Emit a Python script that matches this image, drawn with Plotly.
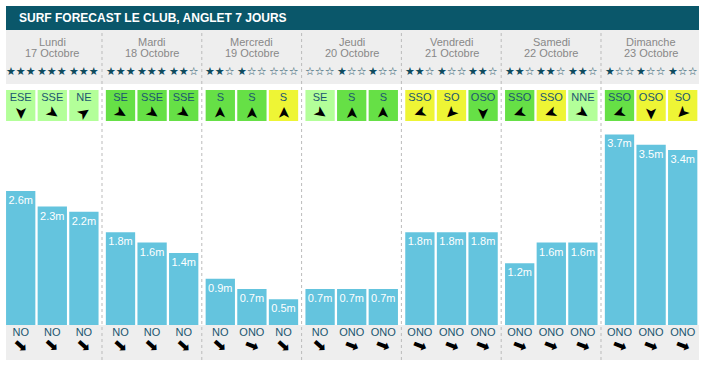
import plotly.graph_objects as go

W, H = 704, 369

days = ["Lundi", "Mardi", "Mercredi", "Jeudi", "Vendredi", "Samedi", "Dimanche"]
dates = ["17 Octobre", "18 Octobre", "19 Octobre", "20 Octobre",
         "21 Octobre", "22 Octobre", "23 Octobre"]

stars = [3, 3, 3, 3, 3, 2, 2, 1, 0, 0, 1, 1, 2, 1, 2, 2, 2, 2, 1, 1, 1]

wind_dir = ["ESE", "SSE", "NE", "SE", "SSE", "SSE", "S", "S", "S",
            "SE", "S", "S", "SSO", "SO", "OSO", "SSO", "SSO", "NNE",
            "SSO", "OSO", "SO"]
wind_class = ["light", "light", "light", "green", "green", "green",
              "green", "green", "yellow", "light", "green", "green",
              "yellow", "yellow", "green", "green", "yellow", "light",
              "green", "yellow", "yellow"]
# direction the wind arrow points, degrees clockwise from up
wind_angle = [180, 125, 55, 120, 125, 125, 0, 0, 0, 125, 0, 0,
              250, 225, 180, 250, 250, 125, 250, 180, 225]

wave_height = [2.6, 2.3, 2.2, 1.8, 1.6, 1.4, 0.9, 0.7, 0.5, 0.7, 0.7, 0.7,
               1.8, 1.8, 1.8, 1.2, 1.6, 1.6, 3.7, 3.5, 3.4]

swell_dir = ["NO", "NO", "NO", "NO", "NO", "NO", "NO", "ONO", "NO",
             "NO", "ONO", "ONO", "ONO", "ONO", "ONO", "ONO", "ONO", "ONO",
             "ONO", "ONO", "ONO"]
swell_angle = {"NO": 42, "ONO": 22}

class_color = {"light": "#B3FF99", "green": "#66E046", "yellow": "#EEF535"}

# ---------- layout geometry (pixels) ----------
COL = 99.8
SLOT = 31.6
X0 = 20.7
BARW = 29.3
PX_PER_M = 51.5


def py(px):
    return 1 - px / H


def slot_x(i):
    d, s = divmod(i, 3)
    return X0 + COL * d + SLOT * s


xs = [slot_x(i) for i in range(len(wave_height))]

TEXT_COL = "#1B5670"
STAR_COL = "#0E4B5E"

fig = go.Figure()

# wave bars
fig.add_trace(go.Bar(
    x=xs, y=wave_height, width=BARW, yaxis="y",
    marker=dict(color="#64C4DE", line=dict(width=0)),
    text=[f"{v}m" for v in wave_height], textposition="inside",
    insidetextanchor="end", constraintext="none", textangle=0,
    textfont=dict(color="white", size=11, family="Arial"),
    hoverinfo="skip", showlegend=False,
))

# wind boxes
fig.add_trace(go.Bar(
    x=xs, y=[1] * len(xs), base=0, width=BARW, yaxis="y2",
    marker=dict(color=[class_color[c] for c in wind_class], line=dict(width=0)),
    hoverinfo="skip", showlegend=False,
))
fig.add_trace(go.Scatter(
    x=xs, y=[0.73] * len(xs), yaxis="y2", mode="text", text=wind_dir,
    textfont=dict(color=TEXT_COL, size=11, family="Arial"),
    hoverinfo="skip", showlegend=False,
))

# swell direction
fig.add_trace(go.Scatter(
    x=xs, y=[0.77] * len(xs), yaxis="y3", mode="text", text=swell_dir,
    textfont=dict(color=TEXT_COL, size=11, family="Arial"),
    hoverinfo="skip", showlegend=False,
))

shapes = []
shapes.append(dict(type="rect", xref="paper", yref="paper", x0=6 / W, x1=699 / W,
                   y0=py(30), y1=py(6), fillcolor="#0A576A", line=dict(width=0),
                   layer="below"))
shapes.append(dict(type="rect", xref="paper", yref="paper", x0=6 / W, x1=699 / W,
                   y0=py(84), y1=py(30), fillcolor="#EEEEEE", line=dict(width=0),
                   layer="below"))
shapes.append(dict(type="rect", xref="paper", yref="paper", x0=6 / W, x1=699 / W,
                   y0=py(360), y1=py(325), fillcolor="#EEEEEE", line=dict(width=0),
                   layer="below"))
for d in range(len(days) - 1):
    sx = 102 + COL * d
    shapes.append(dict(type="line", xref="x", yref="paper", x0=sx, x1=sx,
                       y0=py(360), y1=py(30),
                       line=dict(color="#BBBBBB", width=1, dash="3px,3px"),
                       layer="below"))

annotations = []
annotations.append(dict(text="<b>SURF FORECAST LE CLUB, ANGLET 7 JOURS</b>",
                        xref="paper", yref="paper", x=17 / W, y=py(18),
                        xanchor="left", yanchor="middle", showarrow=False,
                        font=dict(color="white", size=12, family="Arial")))
for d, (name, date) in enumerate(zip(days, dates)):
    cx = slot_x(3 * d + 1)
    annotations.append(dict(text=name, xref="x", yref="paper", x=cx, y=py(41.5),
                            xanchor="center", yanchor="middle", showarrow=False,
                            font=dict(color="#888888", size=11, family="Arial")))
    annotations.append(dict(text=date, xref="x", yref="paper", x=cx, y=py(53.5),
                            xanchor="center", yanchor="middle", showarrow=False,
                            font=dict(color="#888888", size=11, family="Arial")))
for i, n in enumerate(stars):
    txt = "★" * n + "☆" * (3 - n)
    annotations.append(dict(text=txt, xref="x", yref="paper", x=xs[i], y=py(71.5),
                            xanchor="center", yanchor="middle", showarrow=False,
                            font=dict(color=STAR_COL, size=11, family="DejaVu Sans")))
for i, a in enumerate(wind_angle):
    annotations.append(dict(text="➤", xref="x", yref="y2", x=xs[i], y=0.26,
                            xanchor="center", yanchor="middle", showarrow=False,
                            textangle=a - 90,
                            font=dict(color="black", size=16, family="DejaVu Sans")))
for i, sd in enumerate(swell_dir):
    annotations.append(dict(text="➡", xref="x", yref="y3", x=xs[i], y=0.43,
                            xanchor="center", yanchor="middle", showarrow=False,
                            textangle=swell_angle[sd],
                            font=dict(color="black", size=17, family="DejaVu Sans")))

fig.update_layout(
    width=W, height=H,
    margin=dict(l=0, r=0, t=0, b=0),
    paper_bgcolor="white", plot_bgcolor="rgba(0,0,0,0)",
    showlegend=False, barmode="overlay",
    xaxis=dict(range=[0, W], visible=False, fixedrange=True, domain=[0, 1]),
    yaxis=dict(domain=[py(325), py(125)], range=[0, 200 / PX_PER_M],
               visible=False, fixedrange=True),
    yaxis2=dict(domain=[py(121), py(90)], range=[0, 1], anchor="x",
                visible=False, fixedrange=True),
    yaxis3=dict(domain=[py(360), py(325)], range=[0, 1], anchor="x",
                visible=False, fixedrange=True),
    shapes=shapes, annotations=annotations,
)

fig.write_html("out.html", config={"displayModeBar": False},
               post_script="document.body.style.margin='0';document.body.style.overflow='hidden';")
